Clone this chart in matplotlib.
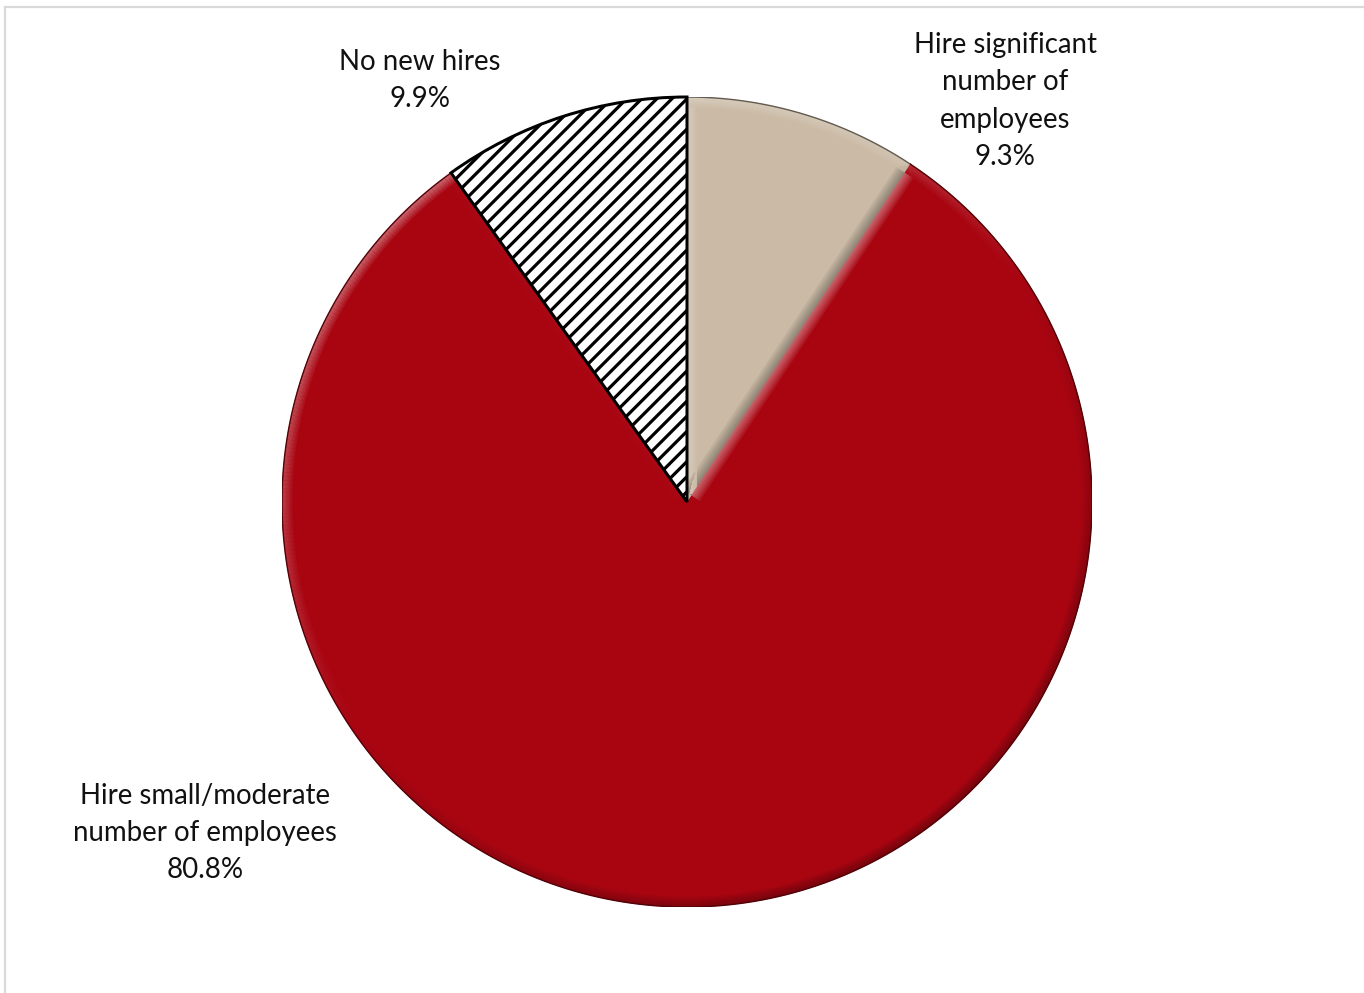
import numpy as np
import matplotlib
matplotlib.use("Agg")
import matplotlib.pyplot as plt
from matplotlib.lines import Line2D
from matplotlib.collections import LineCollection
from matplotlib.colors import to_rgb

# ---- data -------------------------------------------------------------
categories = [
    "Hire significant\nnumber of\nemployees",
    "Hire small/moderate\nnumber of employees",
    "No new hires",
]
shares = [9.3, 80.8, 9.9]
slice_colors = ["#CBBBA6", "#A80511", "#FFFFFF"]
slice_hatches = [None, None, "///"]

# ---- canvas -----------------------------------------------------------
W, H = 1364, 993
DPI = 136.4


def pt(px):
    return px * 72.0 / DPI


plt.rcParams["hatch.linewidth"] = pt(3.2)
plt.rcParams["font.family"] = ["Lato", "DejaVu Sans"]

fig = plt.figure(figsize=(W / DPI, H / DPI), dpi=DPI)
fig.patch.set_facecolor("white")

# light grey chart-area frame
frame_kw = dict(color="#D9D9D9", linewidth=pt(2.2), transform=None)
fig.add_artist(Line2D([5, W + 10], [H - 6.5, H - 6.5], **frame_kw))
fig.add_artist(Line2D([5, 5], [H - 6.5, -10], **frame_kw))

cx, cy, R = 687, 502, 405  # pie centre / radius in pixels
ax = fig.add_axes([(cx - R) / W, (H - cy - R) / H, 2 * R / W, 2 * R / H])

wedges, _ = ax.pie(
    shares,
    colors=slice_colors,
    startangle=90,
    counterclock=False,
    radius=1.0,
    wedgeprops=dict(linewidth=0),
)
ax.set_xlim(-1.0, 1.0)
ax.set_ylim(-1.0, 1.0)
ax.set_aspect("equal")
ax.axis("off")

# ---- soft bevel shading ---------------------------------------------------
light = np.array([-0.55, 0.83])
light /= np.linalg.norm(light)
bev_px = 10.0
n_steps = 7
step = bev_px / n_steps / R  # width of one gradient step in data units


def shade(base, s):
    base = np.array(to_rgb(base))
    if s >= 0:
        return tuple(np.clip(base + (1 - base) * 0.40 * s, 0, 1))
    return tuple(np.clip(base * (1 + 0.32 * s), 0, 1))


for w, col, hatch in zip(wedges, slice_colors, slice_hatches):
    t1, t2 = w.theta1, w.theta2
    if hatch:
        w.set_facecolor("white")
        w.set_hatch(hatch)
        w.set_edgecolor("black")
        w.set_linewidth(pt(3.0))
        w.set_zorder(5)
        continue

    ang = np.radians(np.linspace(t1, t2, 500))
    mids = 0.5 * (ang[:-1] + ang[1:])
    for k in range(n_steps):
        fade = (1.0 - k / n_steps) ** 0.8
        # arc band
        rb = 1.0 - step * (k + 0.5)
        pts = np.column_stack([rb * np.cos(ang), rb * np.sin(ang)])
        segs = np.stack([pts[:-1], pts[1:]], axis=1)
        cols = [shade(col, fade * np.dot([np.cos(a), np.sin(a)], light)) for a in mids]
        ax.add_collection(LineCollection(segs, colors=cols, linewidths=pt(step * R + 0.4),
                                         capstyle="butt", zorder=3))
        # radial bands
        for a_deg, sign in ((t1, -1), (t2, 1)):
            a = np.radians(a_deg)
            u = np.array([np.cos(a), np.sin(a)])
            nrm = sign * np.array([-np.sin(a), np.cos(a)])  # outward from the slice
            off = -nrm * step * (k + 0.5)
            p0 = off + u * (step * n_steps * 0.8)
            p1 = off + u * (1.0 - step * (k + 1))
            c = shade(col, fade * np.dot(nrm, light))
            ax.plot([p0[0], p1[0]], [p0[1], p1[1]], color=c,
                    linewidth=pt(step * R + 0.4), solid_capstyle="butt", zorder=3)

    # thin dark outer rim
    ax.plot(np.cos(ang), np.sin(ang), color=shade(col, -1.6),
            linewidth=pt(1.4), zorder=4)

# ---- labels -------------------------------------------------------------
label_px = [(1005, 101), (205, 833), (420, 80.5)]
for name, share, (lx, ly) in zip(categories, shares, label_px):
    fig.text(lx / W, 1 - ly / H, f"{name}\n{share:.1f}%", ha="center", va="center",
             fontsize=pt(27.6), color="#111111", linespacing=1.53)

fig.savefig("out.png", dpi=DPI, facecolor="white")
